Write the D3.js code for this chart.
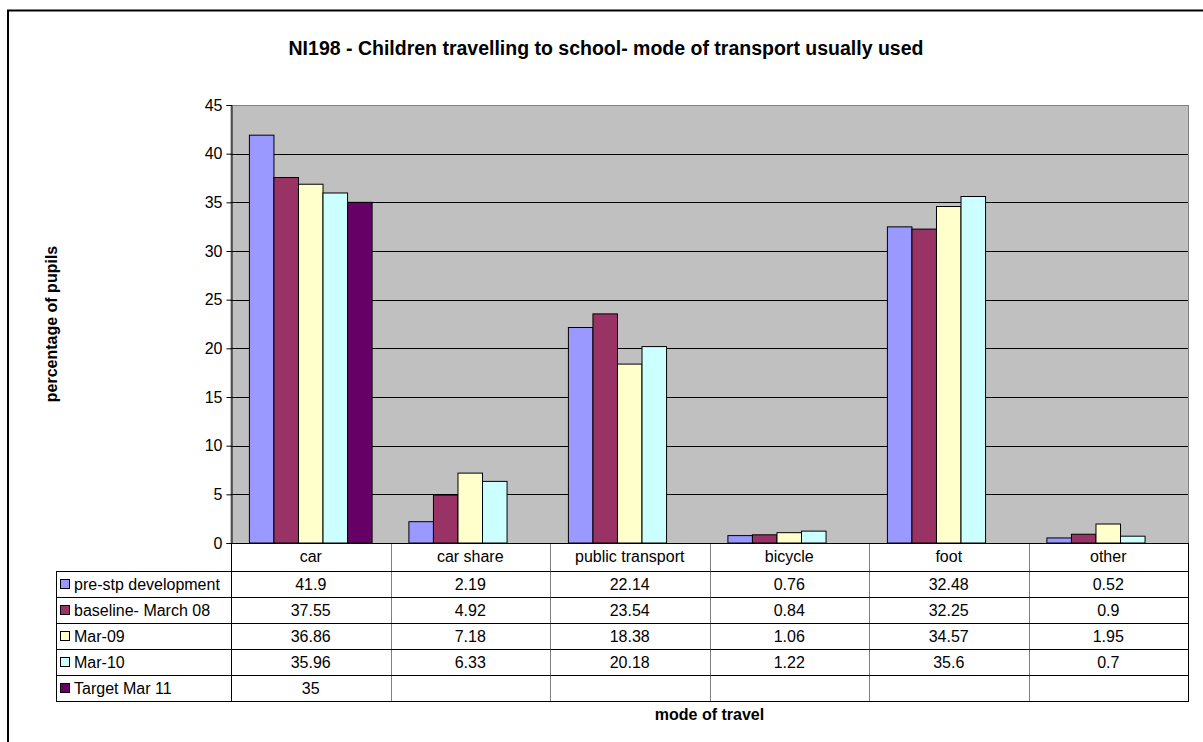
<!DOCTYPE html>
<html>
<head>
<meta charset="utf-8">
<script src="https://cdn.jsdelivr.net/npm/d3@7"></script>
<style>
  html, body { margin: 0; padding: 0; background: #fff; }
  svg { display: block; font-family: "Liberation Sans", Arial, sans-serif; }
</style>
</head>
<body>
<svg id="chart" width="1203" height="742"></svg>
<script>
// Travel modes along the x axis
const categories = ["car", "car share", "public transport", "bicycle", "foot", "other"];
// Survey rounds (one bar per round in each mode)
const seriesNames = ["pre-stp development", "baseline- March 08", "Mar-09", "Mar-10", "Target Mar 11"];
const seriesColors = ["#9999FF", "#993366", "#FFFFCC", "#CCFFFF", "#660066"];
// Percentage of pupils per round, in the order of categories
const preStp   = [41.9, 2.19, 22.14, 0.76, 32.48, 0.52];
const baseline = [37.55, 4.92, 23.54, 0.84, 32.25, 0.9];
const mar09    = [36.86, 7.18, 18.38, 1.06, 34.57, 1.95];
const mar10    = [35.96, 6.33, 20.18, 1.22, 35.6, 0.7];
const target   = [35, null, null, null, null, null];
const yTicks = [0, 5, 10, 15, 20, 25, 30, 35, 40, 45];

const series = [preStp, baseline, mar09, mar10, target];

const svg = d3.select("#chart");
const plot = { left: 231, right: 1188, top: 105, bottom: 543 };
const table = { left: 56, headerH: 28, rowH: 26 };

// Outer chart frame
svg.append("rect")
  .attr("x", 8).attr("y", 10.5)
  .attr("width", 1210).attr("height", 760)
  .attr("fill", "#fff").attr("stroke", "#000").attr("stroke-width", 2);

// Title
svg.append("text")
  .attr("x", 606).attr("y", 55)
  .attr("text-anchor", "middle")
  .attr("font-size", "19.5px").attr("font-weight", "bold")
  .text("NI198 - Children travelling to school- mode of transport usually used");

const x = d3.scaleBand().domain(categories).range([plot.left, plot.right]).padding(0);
const xs = d3.scaleBand().domain(d3.range(seriesNames.length))
  .range([0, x.bandwidth()]).paddingInner(0).paddingOuter(0.75);
const y = d3.scaleLinear().domain([0, 45]).range([plot.bottom, plot.top]);

// Plot background
svg.append("rect")
  .attr("x", plot.left).attr("y", plot.top + 0.5)
  .attr("width", plot.right - plot.left + 0.5).attr("height", plot.bottom - plot.top)
  .attr("fill", "#C0C0C0").attr("stroke", "#808080").attr("stroke-width", 1);

// Horizontal gridlines
svg.append("g").selectAll("line")
  .data(yTicks.filter(t => t > 0 && t < 45))
  .join("line")
  .attr("x1", plot.left).attr("x2", plot.right)
  .attr("y1", d => Math.round(y(d)) + 0.5).attr("y2", d => Math.round(y(d)) + 0.5)
  .attr("stroke", "#000").attr("stroke-width", 1);

// Bars
series.forEach((vals, si) => {
  svg.append("g").selectAll("rect")
    .data(categories.map((c, i) => ({ c, v: vals[i] })).filter(d => d.v != null))
    .join("rect")
    .attr("x", d => x(d.c) + xs(si))
    .attr("y", d => y(d.v))
    .attr("width", xs.bandwidth())
    .attr("height", d => y(0) - y(d.v))
    .attr("fill", seriesColors[si])
    .attr("stroke", "#000").attr("stroke-width", 1);
});

// Y axis
const yAxis = d3.axisLeft(y).tickValues(yTicks).tickSize(5).tickPadding(4).tickFormat(d3.format("d"));
const gy = svg.append("g").attr("transform", `translate(${plot.left + 0.5},0)`).call(yAxis);
gy.selectAll("text").attr("font-size", "16px").attr("font-family", "Liberation Sans, Arial, sans-serif").attr("fill", "#000");
gy.selectAll("line").attr("stroke", "#000");
gy.select(".domain").attr("stroke", "#000");

// Y axis title
svg.append("text")
  .attr("transform", `translate(57,${(plot.top + plot.bottom) / 2}) rotate(-90)`)
  .attr("text-anchor", "middle")
  .attr("font-size", "16px").attr("font-weight", "bold")
  .text("percentage of pupils");

// Data table
const headerBottom = plot.bottom + table.headerH;
const tableBottom = headerBottom + table.rowH * seriesNames.length;
const tg = svg.append("g");

// Category header row
tg.selectAll("text.cat")
  .data(categories)
  .join("text")
  .attr("class", "cat")
  .attr("x", d => x(d) + x.bandwidth() / 2)
  .attr("y", plot.bottom + table.headerH / 2 + 5)
  .attr("text-anchor", "middle")
  .attr("font-size", "16px")
  .text(d => d);

// Value cells, legend keys and series names
series.forEach((vals, si) => {
  const rowY = headerBottom + si * table.rowH;
  tg.append("g").selectAll("text")
    .data(categories.map((c, i) => ({ c, v: vals[i] })).filter(d => d.v != null))
    .join("text")
    .attr("x", d => x(d.c) + x.bandwidth() / 2)
    .attr("y", rowY + table.rowH / 2 + 6)
    .attr("text-anchor", "middle")
    .attr("font-size", "16px")
    .text(d => d.v);
  tg.append("rect")
    .attr("x", 60.5).attr("y", rowY + table.rowH / 2 - 4.5)
    .attr("width", 9).attr("height", 9)
    .attr("fill", seriesColors[si]).attr("stroke", "#000").attr("stroke-width", 1);
  tg.append("text")
    .attr("x", 74).attr("y", rowY + table.rowH / 2 + 6)
    .attr("font-size", "16px")
    .text(seriesNames[si]);
});

// Inner vertical dividers between categories
tg.selectAll("line.vdiv")
  .data(categories.slice(1))
  .join("line")
  .attr("class", "vdiv")
  .attr("x1", d => Math.round(x(d)) + 0.5).attr("x2", d => Math.round(x(d)) + 0.5)
  .attr("y1", plot.bottom).attr("y2", tableBottom)
  .attr("stroke", "#808080");

// Horizontal row lines
const rowLines = d3.range(seriesNames.length + 1).map(i => headerBottom + i * table.rowH);
tg.selectAll("line.hrow")
  .data(rowLines)
  .join("line")
  .attr("class", "hrow")
  .attr("x1", table.left).attr("x2", plot.right + 1)
  .attr("y1", d => d + 0.5).attr("y2", d => d + 0.5)
  .attr("stroke", "#000");

// Table outer edges
tg.append("line").attr("x1", plot.left + 0.5).attr("x2", plot.left + 0.5)
  .attr("y1", plot.bottom).attr("y2", tableBottom).attr("stroke", "#000");
tg.append("line").attr("x1", plot.right + 0.5).attr("x2", plot.right + 0.5)
  .attr("y1", plot.bottom).attr("y2", tableBottom + 0.5).attr("stroke", "#000");
tg.append("line").attr("x1", table.left + 0.5).attr("x2", table.left + 0.5)
  .attr("y1", headerBottom).attr("y2", tableBottom + 0.5).attr("stroke", "#000");
tg.append("line").attr("x1", plot.left).attr("x2", plot.right + 1)
  .attr("y1", plot.bottom + 0.5).attr("y2", plot.bottom + 0.5).attr("stroke", "#000");

// X axis title
svg.append("text")
  .attr("x", (plot.left + plot.right) / 2).attr("y", 720)
  .attr("text-anchor", "middle")
  .attr("font-size", "16px").attr("font-weight", "bold")
  .text("mode of travel");
</script>
</body>
</html>
